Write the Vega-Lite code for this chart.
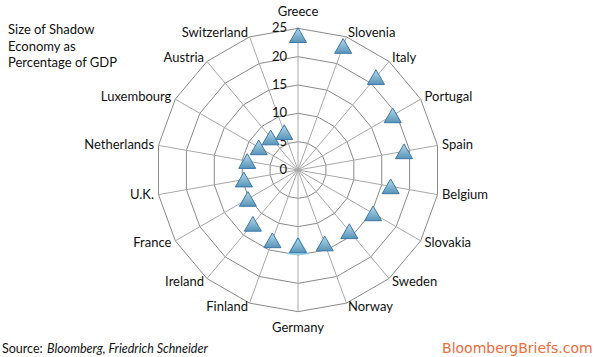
{
  "$schema": "https://vega.github.io/schema/vega-lite/v6.json",
  "width": 596,
  "height": 357,
  "autosize": {"type": "fit", "contains": "padding"},
  "padding": 0,
  "background": "#ffffff",
  "config": {"view": {"stroke": null}, "text": {"font": "Lato", "fontSize": 13, "color": "#111111"}},
  "datasets": {
    "econ": [
      {"country": "Greece", "idx": 0, "value": 23.8},
      {"country": "Slovenia", "idx": 1, "value": 23.3},
      {"country": "Italy", "idx": 2, "value": 21.4},
      {"country": "Portugal", "idx": 3, "value": 19.3},
      {"country": "Spain", "idx": 4, "value": 19.0},
      {"country": "Belgium", "idx": 5, "value": 16.6},
      {"country": "Slovakia", "idx": 6, "value": 15.3},
      {"country": "Sweden", "idx": 7, "value": 14.1},
      {"country": "Norway", "idx": 8, "value": 13.8},
      {"country": "Germany", "idx": 9, "value": 13.3},
      {"country": "Finland", "idx": 10, "value": 13.2},
      {"country": "Ireland", "idx": 11, "value": 12.4},
      {"country": "France", "idx": 12, "value": 10.2},
      {"country": "U.K.", "idx": 13, "value": 9.7},
      {"country": "Netherlands", "idx": 14, "value": 9.1},
      {"country": "Luxembourg", "idx": 15, "value": 8.0},
      {"country": "Austria", "idx": 16, "value": 7.5},
      {"country": "Switzerland", "idx": 17, "value": 7.1}
    ],
    "levels": [{"lv": 0}, {"lv": 5}, {"lv": 10}, {"lv": 15}, {"lv": 20}, {"lv": 25}],
    "notes": [{"label": "note"}]
  },
  "layer": [
    {
      "data": {"name": "econ"},
      "transform": [
        {"calculate": "[5,10,15,20,25]", "as": "lv"},
        {"flatten": ["lv"]},
        {"calculate": "datum.idx*PI/9", "as": "a"},
        {"calculate": "datum.lv*sin(datum.a)", "as": "xa"},
        {"calculate": "datum.lv*cos(datum.a)", "as": "ya"},
        {"calculate": "datum.lv*sin(datum.a+PI/9)", "as": "xb"},
        {"calculate": "datum.lv*cos(datum.a+PI/9)", "as": "yb"}
      ],
      "mark": {"type": "rule", "color": "#8a8a8a", "strokeWidth": 1},
      "encoding": {
        "x": {"field": "xa", "type": "quantitative", "scale": {"domain": [-52.59, 52.59], "nice": false, "zero": false}, "axis": null},
        "y": {"field": "ya", "type": "quantitative", "scale": {"domain": [-33.0, 30.0], "nice": false, "zero": false}, "axis": null},
        "x2": {"field": "xb"},
        "y2": {"field": "yb"}
      }
    },
    {
      "data": {"name": "econ"},
      "transform": [
        {"calculate": "datum.idx*PI/9", "as": "a"},
        {"calculate": "25*sin(datum.a)", "as": "xa"},
        {"calculate": "25*cos(datum.a)", "as": "ya"}
      ],
      "mark": {"type": "rule", "color": "#a8a8a8", "strokeWidth": 1},
      "encoding": {
        "x": {"field": "xa", "type": "quantitative", "scale": {"domain": [-52.59, 52.59], "nice": false, "zero": false}, "axis": null},
        "y": {"field": "ya", "type": "quantitative", "scale": {"domain": [-33.0, 30.0], "nice": false, "zero": false}, "axis": null},
        "x2": {"datum": 0},
        "y2": {"datum": 0}
      }
    },
    {
      "data": {"name": "levels"},
      "mark": {"type": "text", "align": "right", "baseline": "middle", "dx": -11},
      "encoding": {
        "x": {"datum": 0, "type": "quantitative", "scale": {"domain": [-52.59, 52.59], "nice": false, "zero": false}, "axis": null},
        "y": {"field": "lv", "type": "quantitative", "scale": {"domain": [-33.0, 30.0], "nice": false, "zero": false}, "axis": null},
        "text": {"field": "lv", "type": "quantitative", "format": "d"}
      }
    },
    {
      "data": {"name": "econ"},
      "transform": [
        {"filter": "datum.country === 'Germany'"},
        {"calculate": "datum.idx*PI/9", "as": "a"},
        {"calculate": "datum.value*sin(datum.a)", "as": "xa"},
        {"calculate": "datum.value*cos(datum.a)", "as": "ya"}
      ],
      "mark": {"type": "point", "shape": "triangle-up", "size": 520, "filled": true, "color": "#bfeaf9", "opacity": 0.6, "strokeWidth": 0},
      "encoding": {
        "x": {"field": "xa", "type": "quantitative", "scale": {"domain": [-52.59, 52.59], "nice": false, "zero": false}, "axis": null},
        "y": {"field": "ya", "type": "quantitative", "scale": {"domain": [-33.0, 30.0], "nice": false, "zero": false}, "axis": null}
      }
    },
    {
      "data": {"name": "econ"},
      "transform": [
        {"filter": "datum.country === 'Germany'"},
        {"calculate": "datum.idx*PI/9", "as": "a"},
        {"calculate": "datum.value*sin(datum.a)", "as": "xa"},
        {"calculate": "datum.value*cos(datum.a)", "as": "ya"}
      ],
      "mark": {"type": "point", "shape": "triangle-up", "size": 410, "filled": true, "color": "#7fd6f3", "opacity": 0.75, "strokeWidth": 0},
      "encoding": {
        "x": {"field": "xa", "type": "quantitative", "scale": {"domain": [-52.59, 52.59], "nice": false, "zero": false}, "axis": null},
        "y": {"field": "ya", "type": "quantitative", "scale": {"domain": [-33.0, 30.0], "nice": false, "zero": false}, "axis": null}
      }
    },
    {
      "data": {"name": "econ"},
      "transform": [
        {"calculate": "datum.idx*PI/9", "as": "a"},
        {"calculate": "datum.value*sin(datum.a)", "as": "xa"},
        {"calculate": "datum.value*cos(datum.a)", "as": "ya"}
      ],
      "mark": {
        "type": "point", "shape": "triangle-up", "size": 290, "filled": true, "opacity": 1,
        "fill": {"gradient": "linear", "x1": 0, "y1": 0, "x2": 0, "y2": 1, "stops": [{"offset": 0, "color": "#b6dbea"}, {"offset": 1, "color": "#5794b8"}]},
        "stroke": "#3f77a8", "strokeWidth": 1
      },
      "encoding": {
        "x": {"field": "xa", "type": "quantitative", "scale": {"domain": [-52.59, 52.59], "nice": false, "zero": false}, "axis": null},
        "y": {"field": "ya", "type": "quantitative", "scale": {"domain": [-33.0, 30.0], "nice": false, "zero": false}, "axis": null},
        "tooltip": [{"field": "country", "type": "nominal"}, {"field": "value", "type": "quantitative"}]
      }
    },
    {
      "data": {"name": "econ"},
      "transform": [
        {"filter": "datum.idx >= 1 && datum.idx <= 8"},
        {"calculate": "datum.idx*PI/9", "as": "a"},
        {"calculate": "25.8*sin(datum.a)", "as": "xa"},
        {"calculate": "25.8*cos(datum.a)", "as": "ya"}
      ],
      "mark": {"type": "text", "align": "left", "baseline": "middle"},
      "encoding": {
        "x": {"field": "xa", "type": "quantitative", "scale": {"domain": [-52.59, 52.59], "nice": false, "zero": false}, "axis": null},
        "y": {"field": "ya", "type": "quantitative", "scale": {"domain": [-33.0, 30.0], "nice": false, "zero": false}, "axis": null},
        "text": {"field": "country", "type": "nominal"}
      }
    },
    {
      "data": {"name": "econ"},
      "transform": [
        {"filter": "datum.idx >= 10"},
        {"calculate": "datum.idx*PI/9", "as": "a"},
        {"calculate": "25.8*sin(datum.a)", "as": "xa"},
        {"calculate": "25.8*cos(datum.a)", "as": "ya"}
      ],
      "mark": {"type": "text", "align": "right", "baseline": "middle"},
      "encoding": {
        "x": {"field": "xa", "type": "quantitative", "scale": {"domain": [-52.59, 52.59], "nice": false, "zero": false}, "axis": null},
        "y": {"field": "ya", "type": "quantitative", "scale": {"domain": [-33.0, 30.0], "nice": false, "zero": false}, "axis": null},
        "text": {"field": "country", "type": "nominal"}
      }
    },
    {
      "data": {"name": "econ"},
      "transform": [
        {"filter": "datum.idx === 0 || datum.idx === 9"},
        {"calculate": "datum.idx*PI/9", "as": "a"},
        {"calculate": "27.85*sin(datum.a)", "as": "xa"},
        {"calculate": "27.85*cos(datum.a)", "as": "ya"}
      ],
      "mark": {"type": "text", "align": "center", "baseline": "middle"},
      "encoding": {
        "x": {"field": "xa", "type": "quantitative", "scale": {"domain": [-52.59, 52.59], "nice": false, "zero": false}, "axis": null},
        "y": {"field": "ya", "type": "quantitative", "scale": {"domain": [-33.0, 30.0], "nice": false, "zero": false}, "axis": null},
        "text": {"field": "country", "type": "nominal"}
      }
    },
    {
      "data": {"name": "notes"},
      "mark": {"type": "text", "align": "left", "baseline": "middle", "lineHeight": 16.5, "text": ["Size of Shadow", "Economy as", "Percentage of GDP"]},
      "encoding": {
        "x": {"datum": -51.17, "type": "quantitative", "scale": {"domain": [-52.59, 52.59], "nice": false, "zero": false}, "axis": null},
        "y": {"datum": 24.7, "type": "quantitative", "scale": {"domain": [-33.0, 30.0], "nice": false, "zero": false}, "axis": null}
      }
    },
    {
      "data": {"name": "notes"},
      "mark": {"type": "text", "align": "left", "baseline": "middle", "fontSize": 12.5, "text": "Source:"},
      "encoding": {
        "x": {"datum": -52.24, "type": "quantitative", "scale": {"domain": [-52.59, 52.59], "nice": false, "zero": false}, "axis": null},
        "y": {"datum": -31.64, "type": "quantitative", "scale": {"domain": [-33.0, 30.0], "nice": false, "zero": false}, "axis": null}
      }
    },
    {
      "data": {"name": "notes"},
      "mark": {"type": "text", "align": "left", "baseline": "middle", "fontSize": 12.5, "fontStyle": "italic", "text": "Bloomberg,  Friedrich Schneider"},
      "encoding": {
        "x": {"datum": -44.3, "type": "quantitative", "scale": {"domain": [-52.59, 52.59], "nice": false, "zero": false}, "axis": null},
        "y": {"datum": -31.64, "type": "quantitative", "scale": {"domain": [-33.0, 30.0], "nice": false, "zero": false}, "axis": null}
      }
    },
    {
      "data": {"name": "notes"},
      "mark": {"type": "text", "align": "right", "baseline": "middle", "font": "DejaVu Sans", "fontSize": 14, "color": "#ee6b3b", "text": "BloombergBriefs.com"},
      "encoding": {
        "x": {"datum": 52.0, "type": "quantitative", "scale": {"domain": [-52.59, 52.59], "nice": false, "zero": false}, "axis": null},
        "y": {"datum": -31.6, "type": "quantitative", "scale": {"domain": [-33.0, 30.0], "nice": false, "zero": false}, "axis": null}
      }
    }
  ]
}
